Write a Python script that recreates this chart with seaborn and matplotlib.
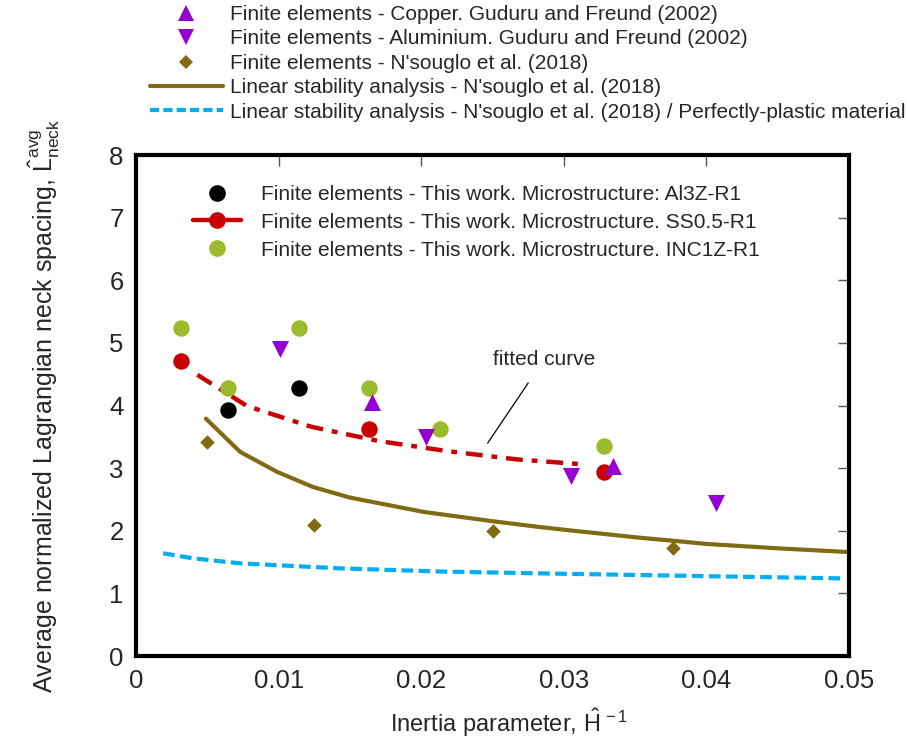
import numpy as np
import pandas as pd
import matplotlib
matplotlib.use('Agg')
import matplotlib.pyplot as plt
import seaborn as sns
from matplotlib.lines import Line2D

# ---------------- data ----------------
inc_x = [0.00316, 0.01143, 0.00645, 0.01634, 0.02132, 0.03282]
inc_y = [5.24, 5.24, 4.28, 4.28, 3.63, 3.35]
ss_x = [0.00316, 0.01634, 0.03282]
ss_y = [4.71, 3.63, 2.94]
al_x = [0.00645, 0.01143]
al_y = [3.93, 4.28]
fit_x = [0.0043, 0.0078, 0.0123, 0.0171, 0.0219, 0.0267, 0.0314]
fit_y = [4.49, 3.99, 3.66, 3.43, 3.27, 3.14, 3.06]
cu_x = [0.01657, 0.03343]
cu_y = [4.06, 3.03]
alu_x = [0.01008, 0.02034, 0.03048, 0.04065]
alu_y = [4.90, 3.50, 2.88, 2.44]
ns_x = [0.00496, 0.01248, 0.02506, 0.03768]
ns_y = [3.41, 2.09, 2.00, 1.73]
lsa_x = [0.0049, 0.0073, 0.0099, 0.0124, 0.0150, 0.0202, 0.0251, 0.0283,
         0.0307, 0.0353, 0.0377, 0.0400, 0.0450, 0.0500]
lsa_y = [3.79, 3.26, 2.94, 2.70, 2.53, 2.30, 2.15, 2.06, 2.00, 1.89, 1.84,
         1.79, 1.72, 1.66]
pp_x = [0.0019, 0.0040, 0.0073, 0.0143, 0.0213, 0.0283, 0.0388, 0.0495]
pp_y = [1.64, 1.56, 1.48, 1.40, 1.35, 1.32, 1.28, 1.24]

x_ticks = [0, 0.01, 0.02, 0.03, 0.04, 0.05]
x_ticklabels = ['0', '0.01', '0.02', '0.03', '0.04', '0.05']
y_ticks = [0, 1, 2, 3, 4, 5, 6, 7, 8]

lab_cu = 'Finite elements - Copper. Guduru and Freund (2002)'
lab_alu = 'Finite elements - Aluminium. Guduru and Freund (2002)'
lab_ns = "Finite elements - N'souglo et al. (2018)"
lab_lsa = "Linear stability analysis - N'souglo et al. (2018)"
lab_pp = "Linear stability analysis - N'souglo et al. (2018) / Perfectly-plastic material"
lab_al = 'Finite elements - This work. Microstructure: Al3Z-R1'
lab_ss = 'Finite elements - This work. Microstructure. SS0.5-R1'
lab_inc = 'Finite elements - This work. Microstructure. INC1Z-R1'

# ---------------- style ----------------
sns.set_style('white')
plt.rcParams['font.family'] = ['Liberation Sans', 'DejaVu Sans']
plt.rcParams['mathtext.fontset'] = 'custom'
plt.rcParams['mathtext.rm'] = 'Liberation Sans'
plt.rcParams['mathtext.it'] = 'Liberation Sans:italic'
plt.rcParams['mathtext.bf'] = 'Liberation Sans:bold'

C_PURPLE = '#9400d3'
C_OLIVE = '#806a14'
C_GREEN = '#9bbb2c'
C_RED = '#c80000'
C_BLUE = '#00aeef'
C_BLACK = '#000000'

fig = plt.figure(figsize=(9.07, 7.46), dpi=100)
ax = fig.add_axes([0.150, 0.1206, 0.786, 0.6716])

# lines
sns.lineplot(x=pp_x, y=pp_y, ax=ax, color=C_BLUE, lw=3.0, sort=False,
             linestyle=(0, (2.8, 1.3)), zorder=2)
sns.lineplot(x=lsa_x, y=lsa_y, ax=ax, color=C_OLIVE, lw=3.0, sort=False, zorder=2)
sns.lineplot(x=fit_x, y=fit_y, ax=ax, color=C_RED, lw=3.2, sort=False,
             linestyle=(0, (3.8, 2.0, 1.3, 2.0)), zorder=2)

# points
sns.scatterplot(x=ns_x, y=ns_y, ax=ax, color=C_OLIVE, marker='D', s=55,
                linewidth=0, zorder=3)
sns.scatterplot(x=inc_x, y=inc_y, ax=ax, color=C_GREEN, marker='o', s=140,
                linewidth=0, zorder=3)
sns.scatterplot(x=ss_x, y=ss_y, ax=ax, color=C_RED, marker='o', s=140,
                linewidth=0, zorder=3)
sns.scatterplot(x=al_x, y=al_y, ax=ax, color=C_BLACK, marker='o', s=140,
                linewidth=0, zorder=3)
sns.scatterplot(x=cu_x, y=cu_y, ax=ax, color=C_PURPLE, marker='^', s=150,
                linewidth=0, zorder=4)
sns.scatterplot(x=alu_x, y=alu_y, ax=ax, color=C_PURPLE, marker='v', s=150,
                linewidth=0, zorder=4)

# annotation
ax.annotate('fitted curve', xy=(0.02466, 3.40), xytext=(0.0286, 4.73),
            fontsize=15, ha='center', va='center',
            arrowprops=dict(arrowstyle='-', color='black', lw=0.9,
                            shrinkA=9, shrinkB=0))

# axes
ax.set_xlim(0, 0.05)
ax.set_ylim(0, 8)
ax.set_xticks(x_ticks)
ax.set_xticklabels(x_ticklabels)
ax.set_yticks(y_ticks)
ax.tick_params(axis='both', direction='in', length=8, width=1.0, color='#555555',
               labelsize=18.5, top=True, right=True, pad=9)
for sp in ax.spines.values():
    sp.set_linewidth(3.0)
    sp.set_color('black')
ax.set_xlabel(r'Inertia parameter, $\hat{\mathrm{H}}^{\,-1}$', fontsize=17, labelpad=10)
ax.xaxis.label.set_x(0.523)
ax.set_ylabel(r'Average normalized Lagrangian neck spacing, $\hat{\mathrm{L}}_{\mathrm{neck}}^{\mathrm{avg}}$',
              fontsize=18, labelpad=34)

# top legend (outside)
h_top = [
    Line2D([], [], ls='none', marker='^', color=C_PURPLE, markersize=12, markeredgewidth=0),
    Line2D([], [], ls='none', marker='v', color=C_PURPLE, markersize=12, markeredgewidth=0),
    Line2D([], [], ls='none', marker='D', color=C_OLIVE, markersize=7, markeredgewidth=0),
    Line2D([], [], color=C_OLIVE, lw=3.0),
    Line2D([], [], color=C_BLUE, lw=3.0, ls=(0, (2.2, 1.0))),
]
fig.legend(h_top, [lab_cu, lab_alu, lab_ns, lab_lsa, lab_pp], loc='upper left',
           bbox_to_anchor=(150 / 907, 1 - 5 / 746), frameon=False, fontsize=15,
           borderpad=0, borderaxespad=0, handlelength=3.5, handletextpad=0.35,
           labelspacing=0.26)

# inner legend
h_in = [
    Line2D([], [], ls='none', marker='o', color=C_BLACK, markersize=12, markeredgewidth=0),
    Line2D([], [], color=C_RED, lw=3.2, marker='o', markersize=12, markeredgewidth=0),
    Line2D([], [], ls='none', marker='o', color=C_GREEN, markersize=12, markeredgewidth=0),
]
fig.legend(h_in, [lab_al, lab_ss, lab_inc], loc='upper left',
           bbox_to_anchor=(193 / 907, 1 - 185 / 746), frameon=False, fontsize=15,
           borderpad=0, borderaxespad=0, handlelength=2.3, handletextpad=0.95,
           labelspacing=0.42)

fig.savefig('out.png', dpi=100)
